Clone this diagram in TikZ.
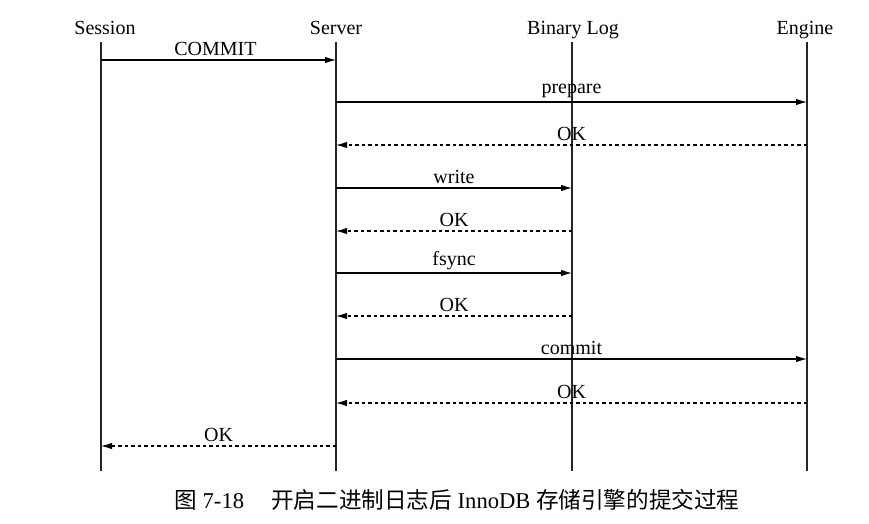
\documentclass[tikz,border=0pt]{standalone}
\usepackage{fontspec}
\setmainfont{Liberation Serif}
\newfontfamily\cjk{Noto Sans CJK SC}
\usetikzlibrary{arrows.meta}
\begin{document}
\begin{tikzpicture}[x=1pt,y=-1pt,
  hdr/.style={anchor=base,inner sep=0pt,font=\fontsize{20}{23}\selectfont},
  life/.style={line width=1.4pt,black!85},
  msg/.style={line width=1.1pt,-{Latex[length=11pt,width=6.5pt]}},
  reply/.style={msg,dash pattern=on 3.5pt off 3pt},
  lbl/.style={above,inner sep=3.5pt,font=\fontsize{20}{23}\selectfont}]
\useasboundingbox (0,0) rectangle (869,523);
% headers
\node[hdr] (hs) at (105,34) {Session};
\node[hdr] (hv) at (336,34) {Server};
\node[hdr] (hb) at (573,34) {Binary Log};
\node[hdr] (he) at (805,34) {Engine};
% lifelines
\coordinate (s0) at (101,42); \coordinate (s1) at (101,471);
\coordinate (v0) at (336,42); \coordinate (v1) at (336,471);
\coordinate (b0) at (572,42); \coordinate (b1) at (572,471);
\coordinate (e0) at (807,42); \coordinate (e1) at (807,471);
\draw[life] (s0) -- (s1);
\draw[life] (v0) -- (v1);
\draw[life] (b0) -- (b1);
\draw[life] (e0) -- (e1);
% message anchor points
\foreach \n/\y in {1/60,2/102,3/145,4/188,5/231,6/273,7/316,8/359,9/403,10/446}{
  \coordinate (S\n) at (101,\y);
  \coordinate (V\n) at (336,\y);
  \coordinate (B\n) at (572,\y);
  \coordinate (E\n) at (807,\y);
}
\draw[msg] (S1) -- node[lbl,xshift=-3pt] {COMMIT} (V1);
\draw[msg] (V2) -- node[lbl] {prepare} (E2);
\draw[reply] (E3) -- node[lbl] {OK} (V3);
\draw[msg] (V4) -- node[lbl] {write} (B4);
\draw[reply] (B5) -- node[lbl] {OK} (V5);
\draw[msg] (V6) -- node[lbl,yshift=-1pt] {fsync} (B6);
\draw[reply] (B7) -- node[lbl] {OK} (V7);
\draw[msg] (V8) -- node[lbl] {commit} (E8);
\draw[reply] (E9) -- node[lbl] {OK} (V9);
\draw[reply] (V10) -- node[lbl] {OK} (S10);
% caption
\node[inner sep=0pt,font=\fontsize{22.6}{26}\selectfont] (cap) at (457,500)
  {{\cjk 图} 7-18\hspace{1.2em}{\cjk 开启二进制日志后} InnoDB {\cjk 存储引擎的提交过程}};
\end{tikzpicture}
\end{document}
